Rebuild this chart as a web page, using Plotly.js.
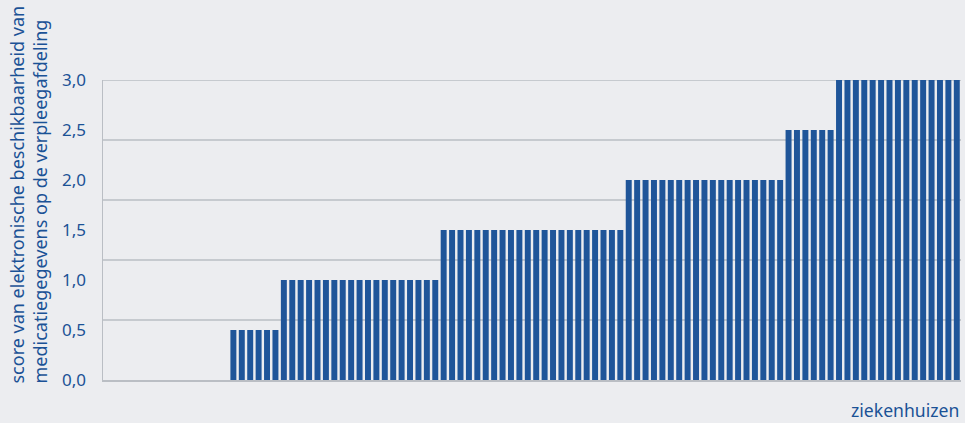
<!DOCTYPE html>
<html>
<head>
<meta charset="utf-8">
<script src="https://cdn.plot.ly/plotly-3.0.1.min.js"></script>
<style>
html,body{margin:0;padding:0;background:#ecedf0;}
#chart{width:965px;height:423px;}
</style>
</head>
<body>
<div id="chart"></div>
<script>
// Hospitals (ziekenhuizen), sorted by score
const hospitals = [1,2,3,4,5,6,7,8,9,10,11,12,13,14,15,16,17,18,19,20,
  21,22,23,24,25,26,27,28,29,30,31,32,33,34,35,36,37,38,39,40,
  41,42,43,44,45,46,47,48,49,50,51,52,53,54,55,56,57,58,59,60,
  61,62,63,64,65,66,67,68,69,70,71,72,73,74,75,76,77,78,79,80,
  81,82,83,84,85,86,87,88,89,90,91,92,93,94,95,96,97,98,99,100,101,102];

// Score per hospital
const scores = [
  0,0,0,0,0,0,0,0,0,0,0,0,0,0,0,
  0.5,0.5,0.5,0.5,0.5,0.5,
  1,1,1,1,1,1,1,1,1,1,1,1,1,1,1,1,1,1,1,
  1.5,1.5,1.5,1.5,1.5,1.5,1.5,1.5,1.5,1.5,1.5,1.5,1.5,1.5,1.5,1.5,1.5,1.5,1.5,1.5,1.5,1.5,
  2,2,2,2,2,2,2,2,2,2,2,2,2,2,2,2,2,2,2,
  2.5,2.5,2.5,2.5,2.5,2.5,
  3,3,3,3,3,3,3,3,3,3,3,3,3,3,3
];

const tickVals = [0, 0.5, 1, 1.5, 2, 2.5, 3];
const tickText = ['0,0', '0,5', '1,0', '1,5', '2,0', '2,5', '3,0'];
const gridVals = [0.6, 1.2, 1.8, 2.4, 3.0];

const yTitle = 'score van elektronische beschikbaarheid van<br>medicatiegegevens op de verpleegafdeling';
const xTitle = 'ziekenhuizen';

const blue = '#1f5599';
const textBlue = '#1b5296';
const gridGray = '#babec4';
const font = '"Noto Sans", "Open Sans", sans-serif';

const trace = {
  type: 'bar',
  x: hospitals,
  y: scores,
  marker: {color: blue},
  hoverinfo: 'y'
};

const shapes = gridVals.map(v => ({
  type: 'line', xref: 'paper', yref: 'y', x0: 0, x1: 1, y0: v, y1: v,
  line: {color: gridGray, width: 1.5}, layer: 'below'
}));

const layout = {
  width: 965, height: 423,
  paper_bgcolor: '#ecedf0', plot_bgcolor: '#ecedf0',
  margin: {l: 103, r: 4, t: 80, b: 43, pad: 0},
  bargap: 0.29,
  showlegend: false,
  font: {family: font, color: textBlue, size: 16},
  xaxis: {
    type: 'category',
    range: [-0.5, hospitals.length - 0.5],
    showticklabels: false, ticks: '', showgrid: false, zeroline: false,
    showline: true, linecolor: gridGray, linewidth: 1.5, fixedrange: true
  },
  yaxis: {
    range: [0, 3],
    tickvals: tickVals, ticktext: tickText,
    tickfont: {family: font, size: 17, color: textBlue},
    ticks: '', ticklabelstandoff: 12,
    showgrid: false, zeroline: false,
    showline: true, linecolor: gridGray, linewidth: 1.5, fixedrange: true
  },
  shapes: shapes,
  annotations: [
    {
      text: yTitle, textangle: -90, align: 'left',
      xref: 'paper', yref: 'paper', x: 0, y: 0,
      xanchor: 'right', yanchor: 'bottom', xshift: -50, yshift: -6,
      showarrow: false, font: {family: font, size: 18, color: textBlue}
    },
    {
      text: xTitle, xref: 'paper', yref: 'paper', x: 1, y: 0,
      xanchor: 'right', yanchor: 'top', yshift: -16, xshift: 0,
      showarrow: false, font: {family: font, size: 17.6, color: textBlue}
    }
  ]
};

Plotly.newPlot('chart', [trace], layout, {displayModeBar: false, staticPlot: true});
</script>
</body>
</html>
